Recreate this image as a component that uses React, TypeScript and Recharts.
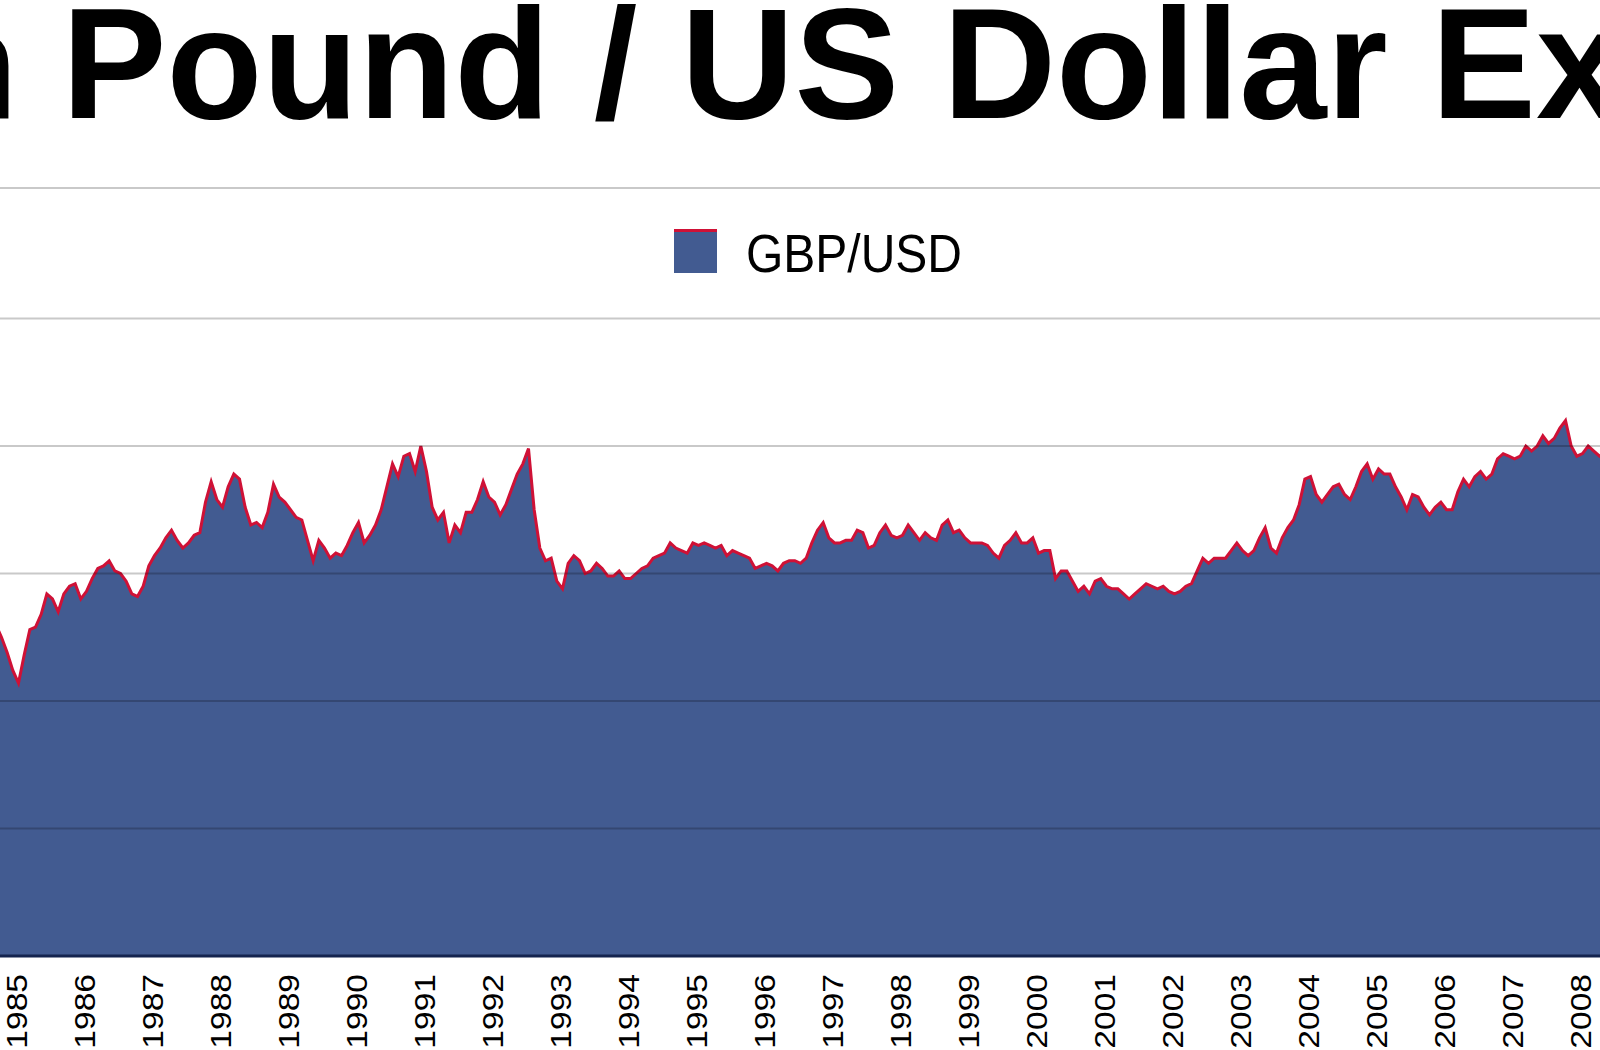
import React from 'react';
import { AreaChart, Area, XAxis, YAxis, ReferenceLine } from 'recharts';

// Monthly GBP/USD readings, Oct 1984 – Dec 1989
const rates1984to1989 = [
  1.30, 1.25, 1.19,
  1.12, 1.07, 1.18, 1.28, 1.29, 1.34, 1.42, 1.40, 1.35, 1.42, 1.45, 1.46,
  1.40, 1.43, 1.48, 1.52, 1.53, 1.55, 1.51, 1.50, 1.47, 1.42, 1.41, 1.45,
  1.53, 1.57, 1.60, 1.64, 1.67, 1.63, 1.60, 1.62, 1.65, 1.66, 1.78, 1.86,
  1.79, 1.76, 1.84, 1.89, 1.87, 1.76, 1.69, 1.70, 1.68, 1.74, 1.85, 1.80,
  1.78, 1.75, 1.72, 1.71, 1.63, 1.55, 1.63, 1.60, 1.56, 1.58, 1.57, 1.61,
];

// Jan 1990 – Dec 1999
const rates1990to1999 = [
  1.66, 1.70, 1.62, 1.65, 1.69, 1.75, 1.84, 1.93, 1.88, 1.96, 1.97, 1.90,
  2.00, 1.90, 1.76, 1.71, 1.74, 1.62, 1.69, 1.66, 1.74, 1.74, 1.79, 1.86,
  1.80, 1.78, 1.73, 1.77, 1.83, 1.89, 1.93, 1.99, 1.75, 1.60, 1.55, 1.56,
  1.47, 1.44, 1.54, 1.57, 1.55, 1.50, 1.51, 1.54, 1.52, 1.49, 1.49, 1.51,
  1.48, 1.48, 1.50, 1.52, 1.53, 1.56, 1.57, 1.58, 1.62, 1.60, 1.59, 1.58,
  1.62, 1.61, 1.62, 1.61, 1.60, 1.61, 1.57, 1.59, 1.58, 1.57, 1.56, 1.52,
  1.53, 1.54, 1.53, 1.51, 1.54, 1.55, 1.55, 1.54, 1.56, 1.62, 1.67, 1.70,
  1.64, 1.62, 1.62, 1.63, 1.63, 1.67, 1.66, 1.60, 1.61, 1.66, 1.69, 1.65,
  1.64, 1.65, 1.69, 1.66, 1.63, 1.66, 1.64, 1.63, 1.69, 1.71, 1.66, 1.67,
  1.64, 1.62, 1.62, 1.62, 1.61, 1.58, 1.56, 1.61, 1.63, 1.66, 1.62, 1.62,
];

// Jan 2000 – Jun 2008
const rates2000to2008 = [
  1.64, 1.58, 1.59, 1.59, 1.48, 1.51, 1.51, 1.47, 1.43, 1.45, 1.42, 1.47,
  1.48, 1.45, 1.44, 1.44, 1.42, 1.40, 1.42, 1.44, 1.46, 1.45, 1.44, 1.45,
  1.43, 1.42, 1.43, 1.45, 1.46, 1.51, 1.56, 1.54, 1.56, 1.56, 1.56, 1.59,
  1.62, 1.59, 1.57, 1.59, 1.64, 1.68, 1.60, 1.58, 1.64, 1.68, 1.71, 1.77,
  1.87, 1.88, 1.81, 1.78, 1.81, 1.84, 1.85, 1.81, 1.79, 1.84, 1.90, 1.93,
  1.87, 1.91, 1.89, 1.89, 1.84, 1.80, 1.75, 1.81, 1.80, 1.76, 1.73, 1.76,
  1.78, 1.75, 1.75, 1.82, 1.87, 1.84, 1.88, 1.90, 1.87, 1.89, 1.95, 1.97,
  1.96, 1.95, 1.96, 2.00, 1.98, 2.00, 2.04, 2.01, 2.03, 2.07, 2.10, 2.00,
  1.96, 1.97, 2.00, 1.98, 1.96, 1.97,
];

const years = [
  1985, 1986, 1987, 1988, 1989, 1990, 1991, 1992, 1993, 1994, 1995, 1996,
  1997, 1998, 1999, 2000, 2001, 2002, 2003, 2004, 2005, 2006, 2007, 2008,
];

const gridValues = [0.5, 1, 1.5, 2, 2.5];

const TITLE = 'British Pound / US Dollar Exchange Rate';
const SERIES_NAME = 'GBP/USD';

const FILL = '#425b91';
const STROKE = '#cf1136';
const GRID = 'rgba(0,0,0,0.21)';

const X_DOMAIN: [number, number] = [1984.853, 2008.382];
const Y_MAX = 3.0118;

function monthly(startYear: number, startMonth: number, values: number[]) {
  return values.map((rate, i) => ({
    t: startYear + (startMonth + i + 0.5) / 12,
    rate,
  }));
}

const data = [
  ...monthly(1984, 9, rates1984to1989),
  ...monthly(1990, 0, rates1990to1999),
  ...monthly(2000, 0, rates2000to2008),
];

function YearTick({ x, payload }: any) {
  const fontSize = 30;
  const bx = x + 6.5 + fontSize * 0.358;
  return (
    <text
      transform={`translate(${bx}, 974) rotate(-90) scale(1.12, 1)`}
      textAnchor="end"
      fontSize={fontSize}
      fontFamily="'Liberation Sans', Arial, sans-serif"
      fill="#000"
    >
      {payload.value}
    </text>
  );
}

export default function App() {
  return (
    <div
      style={{
        position: 'fixed',
        top: 0,
        left: 0,
        width: 1600,
        height: 1050,
        overflow: 'hidden',
        background: '#fff',
      }}
    >
      <AreaChart
        width={1600}
        height={1050}
        data={data}
        margin={{ top: 188, right: 0, bottom: 0, left: 0 }}
      >
        <XAxis
          dataKey="t"
          type="number"
          domain={X_DOMAIN}
          allowDataOverflow
          ticks={years}
          interval={0}
          height={94}
          tickLine={false}
          axisLine={{ stroke: '#14244f', strokeWidth: 3 }}
          tick={<YearTick />}
        />
        <YAxis hide domain={[0, Y_MAX]} />
        <Area
          type="linear"
          dataKey="rate"
          name={SERIES_NAME}
          stroke={STROKE}
          strokeWidth={3}
          fill={FILL}
          fillOpacity={1}
          isAnimationActive={false}
          dot={false}
          activeDot={false}
        />
        {gridValues.map((v) => (
          <ReferenceLine key={v} y={v} stroke={GRID} strokeWidth={2} />
        ))}
        <ReferenceLine y={Y_MAX} stroke={GRID} strokeWidth={2} />
      </AreaChart>

      <svg
        width={1600}
        height={1050}
        style={{ position: 'absolute', top: 0, left: 0, pointerEvents: 'none' }}
      >
        <text
          x={-479}
          y={118}
          fontSize={157}
          fontWeight="bold"
          fontFamily="'Liberation Sans', Arial, sans-serif"
          fill="#000"
        >
          {TITLE}
        </text>
        <rect x={674} y={229} width={43} height={44} fill={FILL} />
        <rect x={674} y={229} width={43} height={3} fill={STROKE} />
        <text
          x={746}
          y={272}
          fontSize={48}
          fontFamily="'Liberation Sans', Arial, sans-serif"
          fill="#000"
          transform="translate(0, -27) scale(1, 1.1)"
        >
          {SERIES_NAME}
        </text>
      </svg>
    </div>
  );
}
